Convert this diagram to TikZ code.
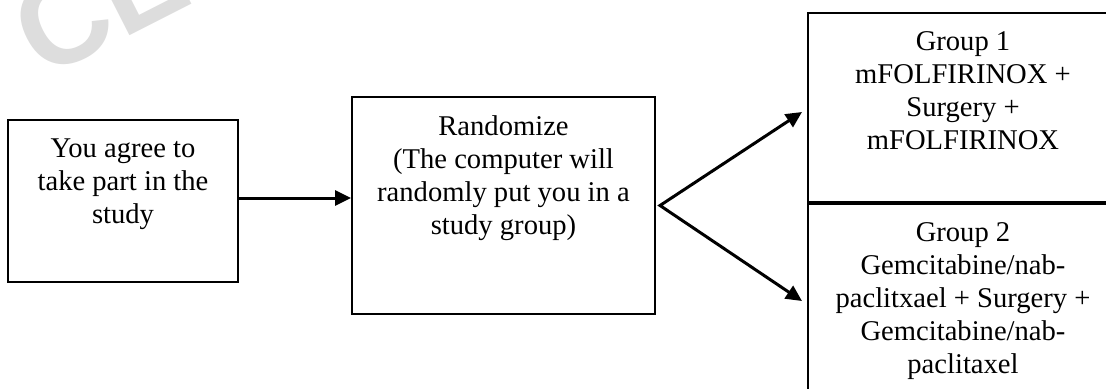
\documentclass[tikz,border=0pt]{standalone}
\usepackage{fontspec}
\setmainfont{Liberation Serif}
\newfontfamily\stampfont{Liberation Sans}
\usetikzlibrary{positioning, arrows.meta}
\definecolor{stampgray}{HTML}{DDDDDD}

\begin{document}
\begin{tikzpicture}[x = 0.5pt, y = -0.5pt,
        box/.style={rectangle, draw, line width=1pt, inner sep=0pt},
        txt/.style={inner sep=0pt, align=center, font=\fontsize{14.3}{16.5}\selectfont},
        paths/.style={line width=1.5pt, -{Triangle[length=8pt, width=7.5pt]}},
        branch/.style={line width=1.5pt, {Triangle[length=8pt, width=7.5pt]}-{Triangle[length=8pt, width=7.5pt]}},
        stamp/.style={inner sep=0pt, anchor=base west, rotate=27, text=stampgray, font=\stampfont\bfseries\fontsize{62}{62}\selectfont}
    ]
        \useasboundingbox (0,0) rectangle (1106,388);
        \clip (0,0) rectangle (1106,388);

        % Watermark
        \node[stamp] (stampword) at (42,80) {CE};

        % Nodes
        \node[box, minimum width = 115pt, minimum height = 81pt] (agree) at (123,201) {};
        \node[box, right = 56pt of agree, yshift = -2.25pt, minimum width = 151.5pt, minimum height = 108.5pt] (rand) {};
        \node[box, minimum width = 155pt, minimum height = 94.5pt] (group1) at (963,107.5) {};
        \node[box, below = 0pt of group1, minimum width = 155pt, minimum height = 99pt] (group2) {};

        % Texts
        \node[txt, below = 9.5pt of agree.north] (agreetxt) {You agree to\\take part in the\\study};
        \node[txt, below = 9.5pt of rand.north] (randtxt) {Randomize\\(The computer will\\randomly put you in a\\study group)};
        \node[txt, below = 9.5pt of group1.north] (group1txt) {Group 1\\mFOLFIRINOX +\\Surgery +\\mFOLFIRINOX};
        \node[txt, below = 9.5pt of group2.north] (group2txt) {Group 2\\Gemcitabine/nab-\\paclitxael + Surgery +\\Gemcitabine/nab-\\paclitaxel};

        % Paths
        \coordinate (fork) at ([xshift = 2pt]rand.east);
        \draw[paths] ([yshift = 1.5pt]agree.east) -- ([yshift = 1.5pt]agree.east -| rand.west);
        \draw[branch] ([xshift = -2.5pt, yshift = -2.25pt]group1.west) -- (fork) -- ([xshift = -2.5pt, yshift = 1pt]group2.west);
    \end{tikzpicture}
\end{document}
